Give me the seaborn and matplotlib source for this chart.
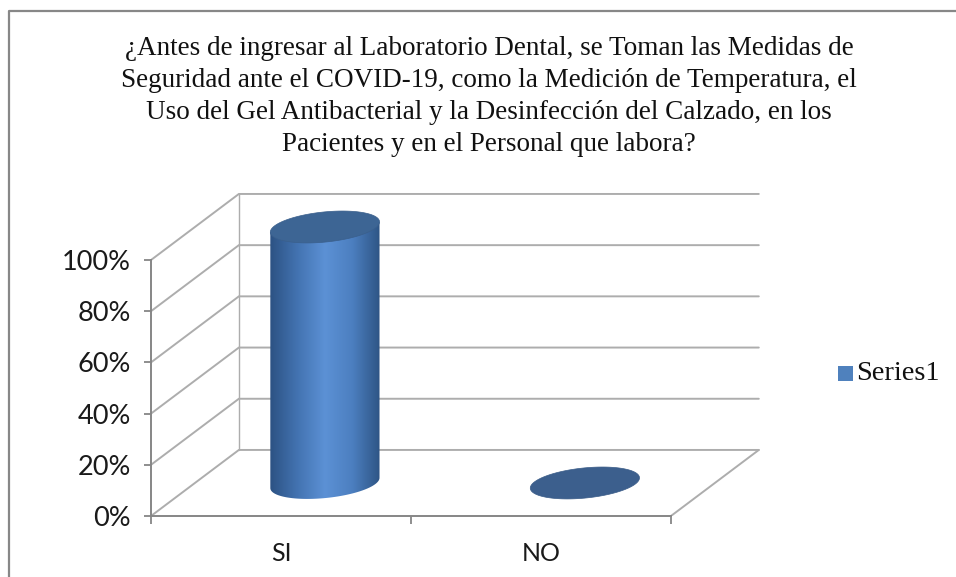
import numpy as np
import pandas as pd
import matplotlib
matplotlib.use("Agg")
import matplotlib.pyplot as plt
import seaborn as sns
from matplotlib.lines import Line2D
from matplotlib.patches import Polygon, Rectangle
from matplotlib.colors import LinearSegmentedColormap

# data
categories = ["SI", "NO"]
values = [100, 0]
tick_vals = [0, 20, 40, 60, 80, 100]
tick_labels = ["0%", "20%", "40%", "60%", "80%", "100%"]
series_name = "Series1"
title = ("¿Antes de ingresar al Laboratorio Dental, se Toman las Medidas de\n"
         "Seguridad ante el COVID-19, como la Medición de Temperatura, el\n"
         "Uso del Gel Antibacterial y la Desinfección del Calzado, en los\n"
         "Pacientes y en el Personal que labora?")

df = pd.DataFrame({"cat": categories, "val": values})

sns.set_theme(style="white")
plt.rcParams["font.family"] = ["Lato", "DejaVu Sans"]

W, H = 956, 577
fig = plt.figure(figsize=(W / 100, H / 100), dpi=100)
fig.patch.set_facecolor("white")

# depth of the fake 3d box (data units)
dx, dy = 0.338, 25.8
xmin, xmax = -0.5, 1.5 + dx + 0.02
ymax = 100 + dy + 1

ax = fig.add_axes([151 / W, (H - 516) / H, 613 / W, 324.6 / H])
sns.barplot(data=df, x="cat", y="val", width=0.42, ax=ax, color="#4F81BD")
ax.set_xlim(xmin, xmax)
ax.set_ylim(0, ymax)
ax.set_xlabel("")
ax.set_ylabel("")

grid_c = "#ADADAD"
axis_c = "#868686"
# walls
for v in tick_vals:
    ax.plot([-0.5, -0.5 + dx, 1.5 + dx], [v, v + dy, v + dy], color=grid_c, lw=1.4,
            zorder=1, solid_joinstyle="miter")
ax.plot([-0.5 + dx, -0.5 + dx], [dy, 100 + dy], color=grid_c, lw=1.0, zorder=1)
ax.plot([1.5, 1.5 + dx], [0, dy], color=grid_c, lw=1.4, zorder=1)

# cylinders from the bar patches
cmap = LinearSegmentedColormap.from_list(
    "cyl", ["#2C5283", "#4373B1", "#5C91D5", "#4C7FC0", "#2E5585"])
a_h = 5.9   # ellipse semi-height (%)
tilt = 2.0  # right end higher by this (%)
t = np.linspace(0, 2 * np.pi, 200)


def ellipse(cx, cy, a):
    return np.column_stack([cx + a * np.cos(t), cy + a_h * np.sin(t) + tilt * np.cos(t)])


for p in ax.patches:
    x0 = p.get_x() + dx / 2
    w = p.get_width()
    h = p.get_height()
    p.set_visible(False)
    cx = x0 + w / 2
    a = w / 2
    base = dy / 2
    if h > 0:
        tt = np.linspace(np.pi, 2 * np.pi, 100)
        bottom = np.column_stack([cx + a * np.cos(tt), base + a_h * np.sin(tt) + tilt * np.cos(tt)])
        tt2 = np.linspace(0, np.pi, 100)
        top = np.column_stack([cx + a * np.cos(tt2), base + h + tilt * np.cos(tt2)])
        body = Polygon(np.vstack([bottom, top]), closed=True, facecolor="none",
                       edgecolor="none", zorder=3)
        ax.add_patch(body)
        grad = np.linspace(0, 1, 256).reshape(1, -1)
        im = ax.imshow(grad, cmap=cmap, extent=[cx - a, cx + a, base - a_h - 3, base + h + 8],
                       aspect="auto", zorder=3, origin="lower")
        im.set_clip_path(body)
        ax.add_patch(Polygon(ellipse(cx, base + h, a), closed=True, facecolor="#3D6594",
                             edgecolor="#3A5F8C", lw=0.5, zorder=4))
    else:
        ax.add_patch(Polygon(ellipse(cx, base, a), closed=True, facecolor="#3C5F8D",
                             edgecolor="#3A5C88", lw=0.5, zorder=4))

ax.set_xlim(xmin, xmax)
ax.set_ylim(0, ymax)

# axes
for s in ["top", "right"]:
    ax.spines[s].set_visible(False)
ax.spines["left"].set_bounds(0, 100)
ax.spines["bottom"].set_bounds(-0.5, 1.5)
for s in ["left", "bottom"]:
    ax.spines[s].set_color(axis_c)
    ax.spines[s].set_linewidth(1.4)
    ax.spines[s].set_zorder(5)
ax.set_yticks(tick_vals)
ax.set_yticklabels(tick_labels, fontsize=19.5, color="#1a1a1a")
ax.set_xticks([-0.5, 0.5, 1.5])
ax.set_xticklabels([])
ax.set_xticks([0, 1], minor=True)
ax.set_xticklabels(categories, minor=True, fontsize=18, color="#1a1a1a")
ax.tick_params(axis="y", which="major", direction="out", length=5, width=1.3,
               color=axis_c, pad=9.5, left=True)
ax.tick_params(axis="x", which="major", direction="out", length=6, width=1.3,
               color=axis_c, bottom=True)
ax.tick_params(axis="x", which="minor", length=0, pad=19)
ax.grid(False)

# legend
fig.patches.append(Rectangle((838 / W, 1 - 381 / H), 15 / W, 15 / H, transform=fig.transFigure,
                             facecolor="#4F81BD", edgecolor="none", figure=fig))
fig.text(856 / W, 1 - 373 / H, series_name, fontsize=20.5, va="center", ha="left",
         family=["Liberation Serif", "DejaVu Serif"], color="#111111")

# title
fig.text(489 / W, 1 - 36 / H, title, ha="center", va="top", fontsize=19.5,
         family=["Liberation Serif", "DejaVu Serif"], linespacing=1.36, color="#111111")

# chart border
fig.add_artist(Line2D([9 / W, 9 / W, 1], [0, 1 - 11 / H, 1 - 11 / H], transform=fig.transFigure,
                      color="#878787", lw=1.6))

fig.savefig("out.png", dpi=100)
